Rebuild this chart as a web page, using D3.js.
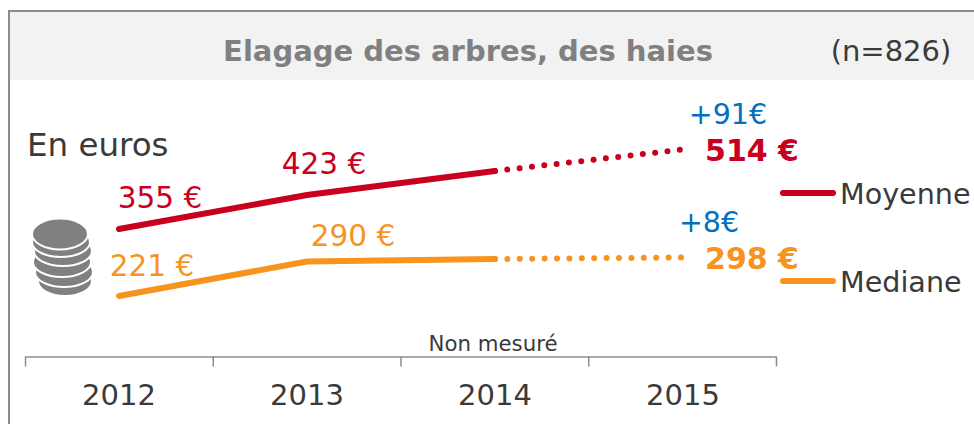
<!DOCTYPE html>
<html>
<head>
<meta charset="utf-8">
<script src="https://d3js.org/d3.v7.min.js"></script>
<style>
  html, body { margin: 0; padding: 0; background: #fff; overflow: hidden; }
  text { font-family: "DejaVu Sans", sans-serif; }
</style>
</head>
<body>
<script>
// Values
const years = ["2012", "2013", "2014", "2015"];
const moyenne = [355, 423, 471, 514];
const mediane = [221, 290, 295, 298];
const moyenneLabels = ["355 €", "423 €", null, "514 €"];
const medianeLabels = ["221 €", "290 €", null, "298 €"];
const red = "#c8001e", orange = "#f7931e", blue = "#0070c0", grey = "#808080", ink = "#3a3a3a";

const svg = d3.select("body").append("svg")
  .attr("width", 974)
  .attr("height", 424);

// frame and header
svg.append("rect").attr("x", 9).attr("y", 11).attr("width", 980).attr("height", 430)
  .attr("fill", "#fff").attr("stroke", "#8c8c8c").attr("stroke-width", 2);
svg.append("rect").attr("x", 10).attr("y", 12).attr("width", 964).attr("height", 68).attr("fill", "#f2f2f2");
svg.append("text").attr("x", 468).attr("y", 61).attr("text-anchor", "middle")
  .style("font-size", "29px").style("font-weight", "bold").style("fill", grey)
  .text("Elagage des arbres, des haies");
svg.append("text").attr("x", 891).attr("y", 61).attr("text-anchor", "middle")
  .style("font-size", "29px").style("fill", ink).text("(n=826)");
svg.append("text").attr("x", 27).attr("y", 156)
  .style("font-size", "32.5px").style("fill", ink).text("En euros");

const x = d3.scaleBand().domain(years).range([25, 777]);
const y = d3.scaleLinear().domain([0, 600]).range([406.5, 106.5]);
const cx = (d, i) => x(years[i]) + x.bandwidth() / 2;

const line = d3.line().x(d => d.x).y(d => y(d.v));

function drawSeries(values, color) {
  const pts = values.map((v, i) => ({ x: cx(v, i), v }));
  svg.append("path").attr("d", line(pts.slice(0, 3)))
    .attr("fill", "none").attr("stroke", color).attr("stroke-width", 6).attr("stroke-linecap", "round");
  // dotted stretch: not measured in 2014
  svg.append("path").attr("d", line(pts.slice(2)))
    .attr("fill", "none").attr("stroke", color).attr("stroke-width", 6)
    .attr("stroke-linecap", "round").attr("stroke-dasharray", "0 12.4");
}
drawSeries(moyenne, red);
drawSeries(mediane, orange);

function drawLabels(labels, values, color, dx, dy) {
  svg.selectAll(null).data(labels.slice(0, 2)).enter().append("text")
    .attr("x", (d, i) => cx(d, i) + dx[i])
    .attr("y", (d, i) => y(values[i]) + dy[i])
    .attr("text-anchor", "middle")
    .style("font-size", "29.5px").style("fill", color)
    .text(d => d);
  svg.append("text")
    .attr("x", cx(null, 3) + 69).attr("y", y(values[3]) + dy[2])
    .attr("text-anchor", "middle")
    .style("font-size", "30px").style("font-weight", "bold").style("fill", color)
    .text(labels[3]);
}
drawLabels(moyenneLabels, moyenne, red, [41, 17], [-21, -21, 11]);
drawLabels(medianeLabels, mediane, orange, [33, 46], [-20, -16, 11]);

svg.append("text").attr("x", 728).attr("y", 124).attr("text-anchor", "middle")
  .style("font-size", "28.5px").style("fill", blue).text("+91€");
svg.append("text").attr("x", 709).attr("y", 232).attr("text-anchor", "middle")
  .style("font-size", "28.5px").style("fill", blue).text("+8€");

// legend
const legend = [["Moyenne", red, 193], ["Mediane", orange, 281]];
legend.forEach(([name, color, ly]) => {
  svg.append("line").attr("x1", 783).attr("x2", 833).attr("y1", ly).attr("y2", ly)
    .attr("stroke", color).attr("stroke-width", 6).attr("stroke-linecap", "round");
  svg.append("text").attr("x", 840).attr("y", ly + 11)
    .style("font-size", "28.6px").style("fill", ink).text(name);
});

// coin stack, bottom to top
const coins = [[65, 281, 27, 15], [64, 272, 29, 15], [62, 262, 29, 15], [63, 251, 29, 15], [61, 242, 29, 15], [60, 234, 28, 15.5]];
svg.selectAll(null).data(coins).enter().append("ellipse")
  .attr("cx", d => d[0]).attr("cy", d => d[1]).attr("rx", d => d[2]).attr("ry", d => d[3])
  .attr("fill", grey).attr("stroke", "#fff").attr("stroke-width", 2);

// axis: ticks on the band edges, years centred in the bands
const edges = d3.scaleLinear().domain([0, 4]).range([25, 776]);
const tickAxis = svg.append("g").attr("transform", "translate(0,356.5)")
  .call(d3.axisBottom(edges).tickValues([0, 1, 2, 3, 4]).tickSize(10).tickSizeOuter(0).tickFormat(""));
tickAxis.selectAll("line, path").attr("stroke", "#8c8c8c").attr("stroke-width", 1.5);

const yearAxis = svg.append("g").attr("transform", "translate(0,360.5)")
  .call(d3.axisBottom(x).tickSize(0).tickPadding(24));
yearAxis.select(".domain").remove();
yearAxis.selectAll("text").style("font-size", "29px").style("font-family", '"DejaVu Sans", sans-serif').style("fill", ink);

svg.append("text").attr("x", 493).attr("y", 351).attr("text-anchor", "middle")
  .style("font-size", "21.3px").style("fill", ink).text("Non mesuré");
</script>
</body>
</html>
